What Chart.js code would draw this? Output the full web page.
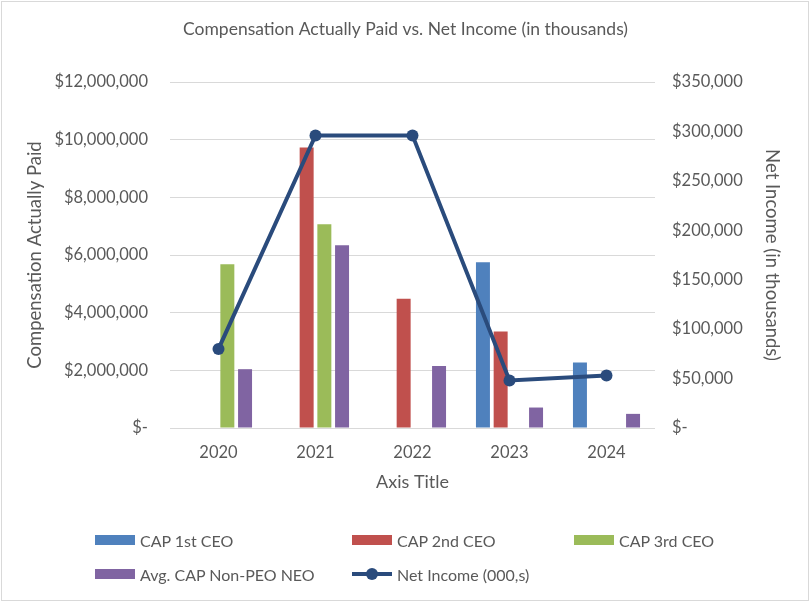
<!DOCTYPE html>
<html>
<head>
<meta charset="utf-8">
<script src="https://cdn.jsdelivr.net/npm/chart.js@4.4.0/dist/chart.umd.min.js"></script>
<style>
  html, body { margin: 0; padding: 0; background: #fff; }
  #wrap { position: relative; width: 811px; height: 602px; }
  #frame { position: absolute; left: 1px; top: 1px; width: 806px; height: 598px; border: 1px solid #d9d9d9; pointer-events: none; }
  #legend { position: absolute; left: 95px; top: 529px; display: grid; grid-template-columns: 257px 222px auto; row-gap: 12px;
    font-family: Lato, "Open Sans", sans-serif; font-size: 16px; color: #595959; }
  .item { display: flex; align-items: center; height: 22px; white-space: nowrap; }
  .sw { width: 40px; height: 10px; margin-right: 5px; }
  .ln { position: relative; width: 40px; height: 10px; margin-right: 5px; }
  .ln i { position: absolute; left: 0; right: 0; top: 3px; height: 4px; }
  .ln b { position: absolute; left: 14px; top: -1px; width: 12px; height: 12px; border-radius: 50%; }
</style>
</head>
<body>
<div id="wrap">
  <canvas id="chart" width="811" height="602"></canvas>
  <div id="frame"></div>
  <div id="legend"></div>
</div>
<script>
// chart data
const years = ["2020", "2021", "2022", "2023", "2024"];
const cap1st = [null, null, null, 5750000, 2270000];
const cap2nd = [null, 9730000, 4480000, 3350000, null];
const cap3rd = [5680000, 7070000, null, null, null];
const avgNonPeo = [2040000, 6340000, 2150000, 710000, 490000];
const netIncome = [80000, 296000, 296000, 48000, 53000];

const leftTicks = [0, 2000000, 4000000, 6000000, 8000000, 10000000, 12000000];
const rightTicks = [0, 50000, 100000, 150000, 200000, 250000, 300000, 350000];

const textColor = "#595959";
const fontFamily = "Lato, 'Open Sans', sans-serif";

function money(v) {
  if (v === 0) return "$-";
  return "$" + v.toLocaleString("en-US");
}

function barSet(label, data, color) {
  return {
    type: "bar",
    label: label,
    data: data,
    backgroundColor: color,
    borderWidth: 0,
    yAxisID: "y",
    order: 1,
    categoryPercentage: 0.73,
    barPercentage: 0.79,
  };
}

const ctx = document.getElementById("chart").getContext("2d");
const chart = new Chart(ctx, {
  data: {
    labels: years,
    datasets: [
      barSet("CAP 1st CEO", cap1st, "#4f81bd"),
      barSet("CAP 2nd CEO", cap2nd, "#c0504d"),
      barSet("CAP 3rd CEO", cap3rd, "#9bbb59"),
      barSet("Avg. CAP Non-PEO NEO", avgNonPeo, "#8064a2"),
      {
        type: "line",
        label: "Net Income (000,s)",
        data: netIncome,
        borderColor: "#2a4b7c",
        backgroundColor: "#2a4b7c",
        borderWidth: 4,
        pointRadius: 6,
        pointBackgroundColor: "#2a4b7c",
        pointBorderWidth: 0,
        tension: 0,
        yAxisID: "y1",
        order: 0,
      },
    ],
  },
  options: {
    responsive: false,
    animation: false,
    layout: { padding: { top: 19, bottom: 105, left: 0, right: 0 } },
    plugins: {
      legend: { display: false },
      tooltip: { enabled: false },
      title: {
        display: true,
        text: "Compensation Actually Paid vs. Net Income (in thousands)",
        color: textColor,
        font: { family: fontFamily, size: 17.5, weight: "normal" },
        padding: { top: 0, bottom: 42 },
      },
    },
    scales: {
      x: {
        afterFit: (s) => { s.height = 69; },
        grid: { display: false, drawTicks: false },
        border: { display: false },
        ticks: { color: textColor, font: { family: fontFamily, size: 16.5 }, padding: 15 },
        title: {
          display: true,
          text: "Axis Title",
          color: textColor,
          font: { family: fontFamily, size: 18 },
          padding: { top: 0, bottom: 4 },
        },
      },
      y: {
        position: "left",
        min: 0,
        max: 12000000,
        afterFit: (s) => { s.width = 170; },
        afterBuildTicks: (s) => { s.ticks = leftTicks.map((v) => ({ value: v })); },
        grid: { color: "#d9d9d9", lineWidth: 1, drawTicks: false },
        border: { display: false },
        ticks: { color: textColor, font: { family: fontFamily, size: 16.5 }, padding: 22, callback: (v) => money(v) },
        title: {
          display: true,
          text: "Compensation Actually Paid",
          color: textColor,
          font: { family: fontFamily, size: 18.5 },
          padding: { top: 24, bottom: 0 },
        },
      },
      y1: {
        position: "right",
        min: 0,
        max: 350000,
        afterFit: (s) => { s.width = 156; },
        afterBuildTicks: (s) => { s.ticks = rightTicks.map((v) => ({ value: v })); },
        grid: { display: false, drawTicks: false },
        border: { display: false },
        ticks: { color: textColor, font: { family: fontFamily, size: 16.5 }, padding: 17, callback: (v) => money(v) },
        title: {
          display: true,
          text: "Net Income (in thousands)",
          color: textColor,
          font: { family: fontFamily, size: 18.5 },
          padding: { top: 28, bottom: 0 },
        },
      },
    },
  },
});

// html legend laid out like the original grid
const legendEl = document.getElementById("legend");
chart.data.datasets.forEach(function (ds) {
  const item = document.createElement("div");
  item.className = "item";
  if (ds.type === "line") {
    item.innerHTML = `<span class="ln"><i style="background:${ds.borderColor}"></i><b style="background:${ds.borderColor}"></b></span>${ds.label}`;
  } else {
    item.innerHTML = `<span class="sw" style="background:${ds.backgroundColor}"></span>${ds.label}`;
  }
  legendEl.appendChild(item);
});
</script>
</body>
</html>
